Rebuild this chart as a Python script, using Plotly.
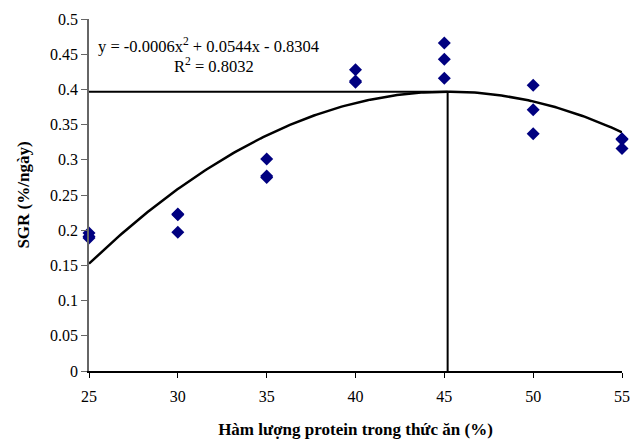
import numpy as np
import plotly.graph_objects as go

# Data (3 replicates per protein level; some overlap)
protein = [25, 25, 25, 30, 30, 30, 35, 35, 35, 40, 40, 40,
           45, 45, 45, 50, 50, 50, 55, 55, 55]
sgr = [0.196, 0.189, 0.191, 0.223, 0.222, 0.197, 0.301, 0.277, 0.275,
       0.428, 0.412, 0.410, 0.466, 0.443, 0.416, 0.406, 0.371, 0.337,
       0.330, 0.329, 0.316]

x_ticks = [25, 30, 35, 40, 45, 50, 55]
y_ticks = [0, 0.05, 0.1, 0.15, 0.2, 0.25, 0.3, 0.35, 0.4, 0.45, 0.5]
y_tick_text = ["0", "0.05", "0.1", "0.15", "0.2", "0.25", "0.3", "0.35", "0.4", "0.45", "0.5"]

eq_text = "y = -0.0006x<sup>2</sup> + 0.0544x - 0.8304"
r2_text = "R<sup>2</sup> = 0.8032"
x_title = "Hàm lượng protein trong thức ăn (%)"
y_title = "SGR (%/ngày)"

# Polynomial (order 2) trendline fitted to the points
coef = np.polyfit(protein, sgr, 2)
poly = np.poly1d(coef)
xs = np.linspace(min(protein), max(protein), 200)
x_opt = -coef[1] / (2 * coef[0])
y_opt = float(poly(x_opt))

FONT = "Liberation Serif, Times New Roman, serif"

fig = go.Figure()
fig.add_trace(go.Scatter(x=xs, y=poly(xs), mode="lines",
                         line=dict(color="black", width=2.5),
                         hoverinfo="skip", showlegend=False))
fig.add_trace(go.Scatter(x=protein, y=sgr, mode="markers",
                         marker=dict(symbol="diamond", size=10, color="#000080"),
                         showlegend=False, cliponaxis=False))

# Optimum reference lines
fig.add_shape(type="line", xref="x", yref="y", x0=min(x_ticks), x1=x_opt,
              y0=y_opt, y1=y_opt, line=dict(color="black", width=2))
fig.add_shape(type="line", xref="x", yref="y", x0=x_opt, x1=x_opt,
              y0=0, y1=y_opt, line=dict(color="black", width=2))

fig.add_annotation(xref="paper", yref="paper", x=0.013, y=0.924, xanchor="left",
                   yanchor="middle", text=eq_text, showarrow=False,
                   font=dict(family=FONT, size=16.5, color="black"))
fig.add_annotation(xref="paper", yref="paper", x=0.155, y=0.868, xanchor="left",
                   yanchor="middle", text=r2_text, showarrow=False,
                   font=dict(family=FONT, size=16.5, color="black"))

fig.update_layout(
    width=632, height=439,
    margin=dict(l=89, r=10, t=19, b=68),
    paper_bgcolor="white", plot_bgcolor="white",
    font=dict(family=FONT, size=16, color="black"),
    xaxis=dict(range=[25, 55], tickvals=x_ticks, ticks="outside", ticklen=5,
               tickcolor="black", showline=True, linecolor="black", linewidth=1.5,
               showgrid=False, zeroline=False, automargin=False,
               ticklabelstandoff=5,
               title=dict(text="<b>" + x_title + "</b>", standoff=22,
                          font=dict(family=FONT, size=17))),
    yaxis=dict(range=[0, 0.5], tickvals=y_ticks, ticktext=y_tick_text,
               ticks="outside", ticklen=6, tickcolor="#666",
               showline=True, linecolor="#666", linewidth=1.5,
               showgrid=False, zeroline=False, automargin=False,
               title=dict(text="<b>" + y_title + "</b>", standoff=16,
                          font=dict(family=FONT, size=17))),
)

fig.write_html("out.html", config={"displayModeBar": False},
               post_script="document.body.style.margin='0';document.body.style.overflow='hidden';")
